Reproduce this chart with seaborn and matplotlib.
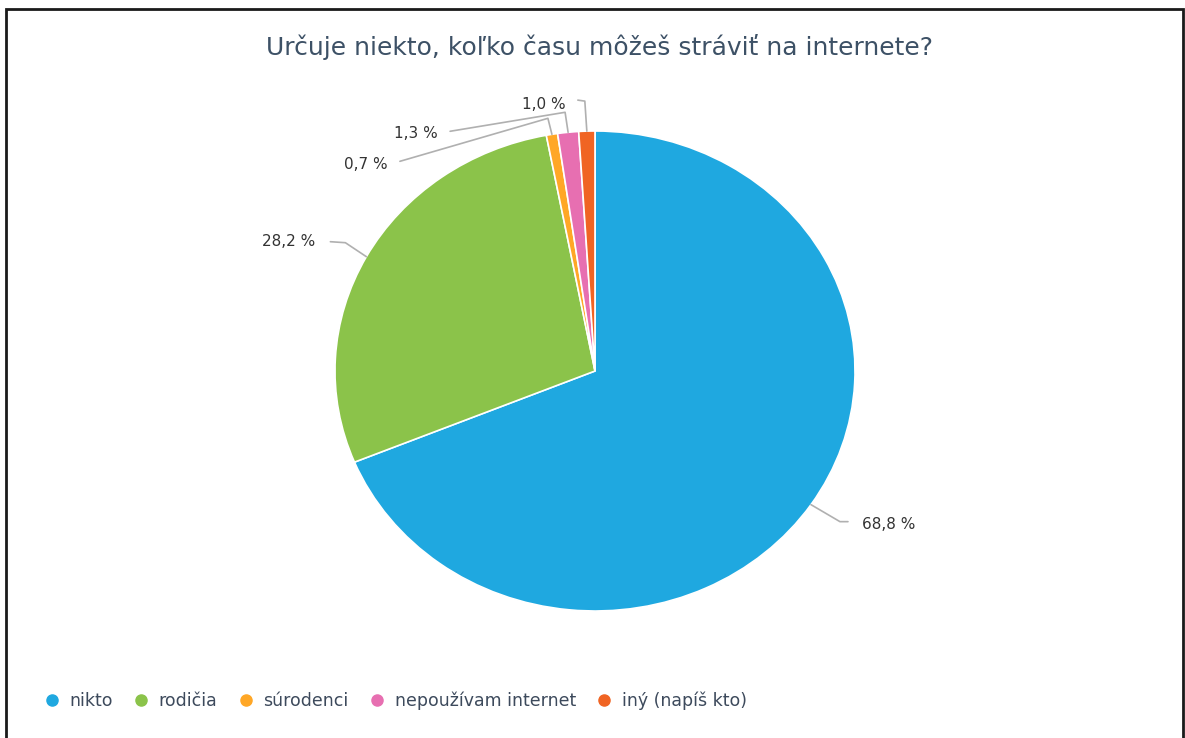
import seaborn as sns
import matplotlib.pyplot as plt
import numpy as np
from matplotlib.lines import Line2D
from matplotlib.patches import Rectangle

# data
kategorie = ['nikto', 'rodičia', 'súrodenci', 'nepoužívam internet', 'iný (napíš kto)']
podiely = [68.8, 28.2, 0.7, 1.3, 1.0]
popisky = ['68,8 %', '28,2 %', '0,7 %', '1,3 %', '1,0 %']
farby = ['#1fa8e0', '#8bc34a', '#ffa726', '#e76fb1', '#f06423']

sns.set_theme(style='white')
plt.rcParams['font.family'] = ['DejaVu Sans']

W, H = 1185, 738
fig = plt.figure(figsize=(W / 100, H / 100), dpi=100)

# pie box (slightly wider than tall, like the reference)
cx, cy, rx, ry = 595, 367, 260, 240
ax = fig.add_axes([(cx - rx) / W, (cy - ry) / H, 2 * rx / W, 2 * ry / H])
wedges, _ = ax.pie(podiely, colors=farby, startangle=90, counterclock=False,
                   wedgeprops=dict(edgecolor='white', linewidth=1.2))
ax.set_aspect('auto')
ax.set_xlim(-1, 1)
ax.set_ylim(-1, 1)

# leader layout in pixels relative to wedge anchor: elbow points, text pos, alignment
rozlozenie = [
    ([(29, -17), (37, -17)], (51, -20), 'left'),
    ([(-21, 14), (-36, 15)], (-51, 15), 'right'),
    ([(-4, 16), (-152, -27)], (-164, -30), 'right'),
    ([(-3, 20), (-118, 1)], (-130, -1), 'right'),
    ([(-2, 30), (-9, 31)], (-21, 27), 'right'),
]

for w, txt, (pts, tpos, ha) in zip(wedges, popisky, rozlozenie):
    ang = np.deg2rad((w.theta1 + w.theta2) / 2)
    ax0, ay0 = np.cos(ang), np.sin(ang)
    xs = [ax0] + [ax0 + dx / rx for dx, dy in pts]
    ys = [ay0] + [ay0 + dy / ry for dx, dy in pts]
    ax.plot(xs, ys, color='#b0b0b0', lw=1.2, clip_on=False)
    ax.text(ax0 + tpos[0] / rx, ay0 + tpos[1] / ry, txt, ha=ha, va='center',
            fontsize=11, color='#333333', clip_on=False)

fig.text(600 / W, 1 - 47 / H, 'Určuje niekto, koľko času môžeš stráviť na internete?',
         ha='center', va='center', fontsize=18, color='#3d5166')

handles = [Line2D([], [], marker='o', linestyle='', markersize=8,
                  markerfacecolor=c, markeredgecolor=c) for c in farby]
fig.legend(handles, kategorie, loc='center left', bbox_to_anchor=(43 / W, 1 - 701 / H),
           ncol=5, frameon=False, fontsize=12.5, handletextpad=0.5, columnspacing=1.15,
           labelcolor='#3d4a5c', handlelength=1.0, borderpad=0, borderaxespad=0)

fig.add_artist(Rectangle((6 / W, -0.05), 1177 / W, 1.05 - 9 / H,
                         transform=fig.transFigure, fill=False,
                         edgecolor='#1a1a1a', linewidth=2))

fig.savefig('out.png', dpi=100)
